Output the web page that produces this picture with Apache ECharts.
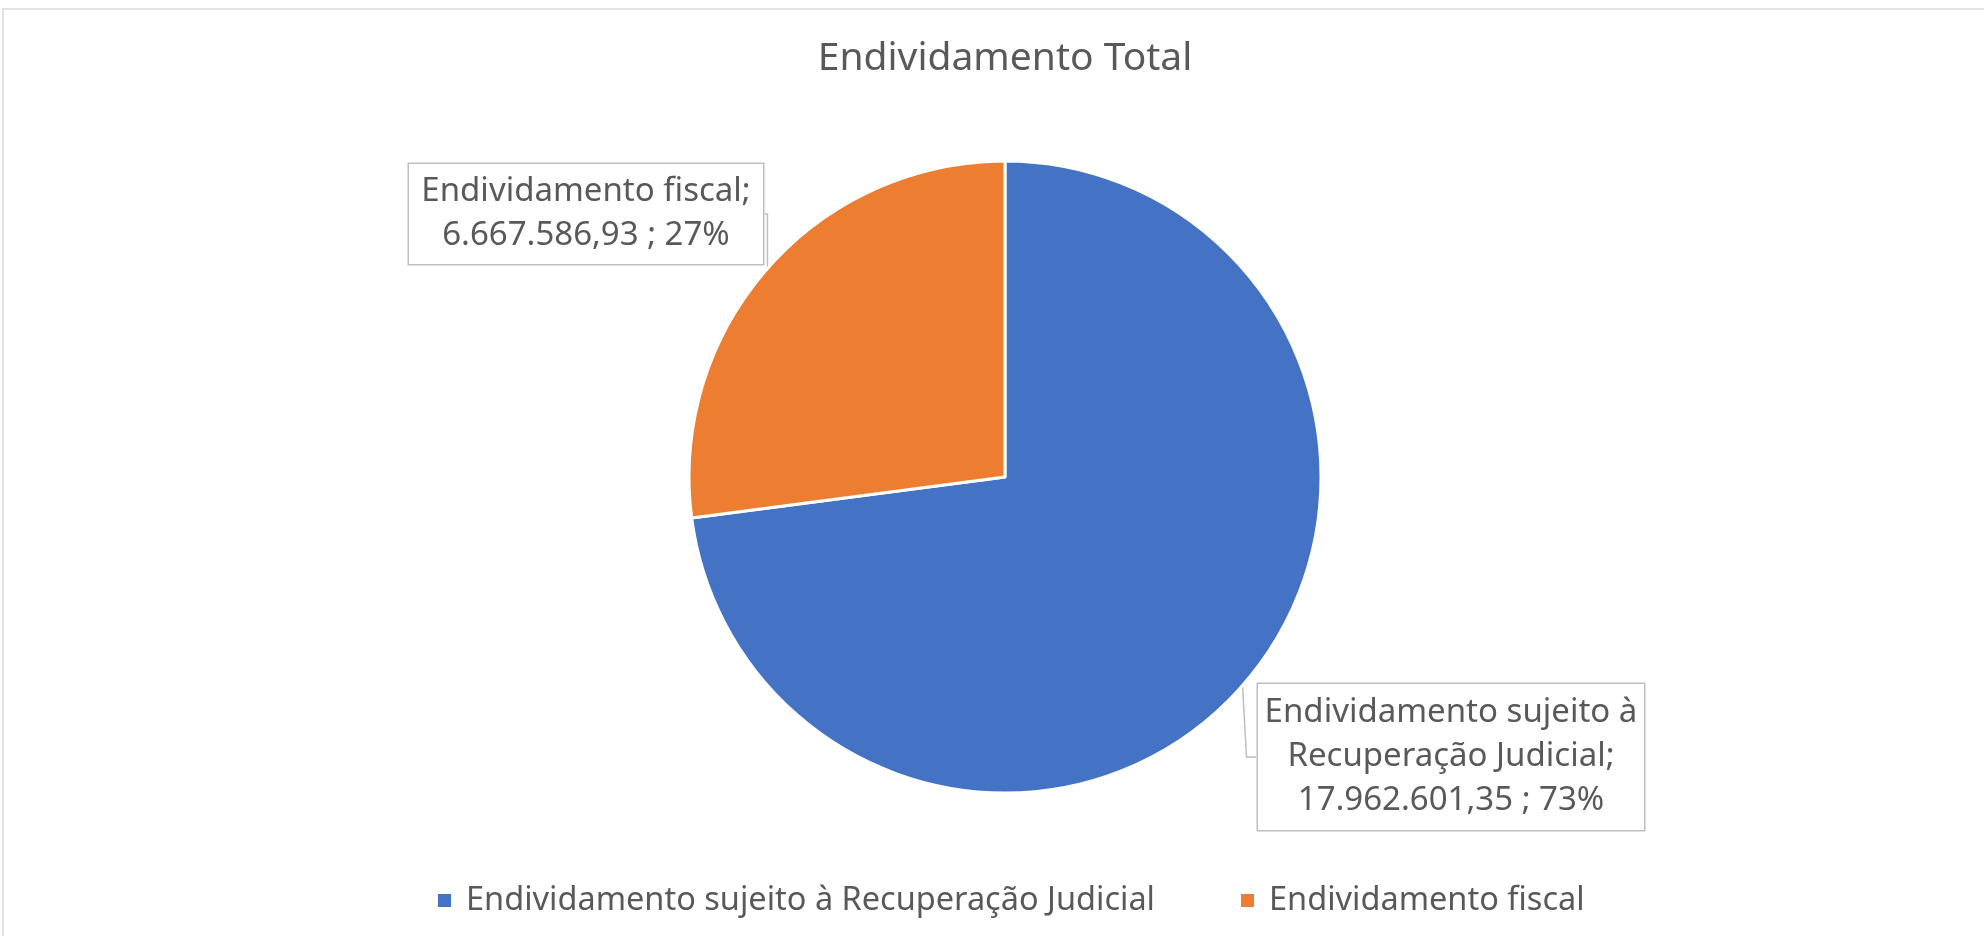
<!DOCTYPE html>
<html>
<head>
<meta charset="utf-8">
<script src="https://cdn.jsdelivr.net/npm/echarts@6/dist/echarts.min.js"></script>
<style>
  html, body { margin: 0; padding: 0; background: #fff; }
  #chart { width: 1984px; height: 936px; }
</style>
</head>
<body>
<div id="chart"></div>
<script>
// dados do grafico
var categories = ['Endividamento sujeito à Recuperação Judicial', 'Endividamento fiscal'];
var values = [17962601.35, 6667586.93];
var colors = ['#4472C4', '#ED7D31'];
// onde fica cada caixa de rotulo (centro)
var labelCenters = [[1451, 757], [586, 214]];
var labelWidths = [370, 332];

function fmtBR(v) {
    var parts = v.toFixed(2).split('.');
    return parts[0].replace(/\B(?=(\d{3})+(?!\d))/g, '.') + ',' + parts[1];
}

// quebra o nome em linhas de ate n caracteres
function wrap(text, n) {
    var lines = [], cur = '';
    text.split(' ').forEach(function (w) {
        if (cur && (cur + ' ' + w).length > n) {
            lines.push(cur);
            cur = w;
        } else {
            cur = cur ? cur + ' ' + w : w;
        }
    });
    lines.push(cur);
    return lines.join('\n');
}

var chart = echarts.init(document.getElementById('chart'));
var font = '"Noto Sans", sans-serif';

var option = {
    animation: false,
    color: colors,
    title: {
        text: 'Endividamento Total',
        left: 1000,
        textAlign: 'center',
        top: 34,
        textStyle: { fontFamily: font, fontSize: 39, fontWeight: 'normal', color: '#595959' }
    },
    legend: {
        bottom: 14,
        left: 431,
        icon: 'rect',
        itemWidth: 15,
        itemHeight: 15,
        itemGap: 84,
        textStyle: { fontFamily: font, fontSize: 32.5, color: '#595959', padding: [0, 0, 0, 9] },
        data: categories
    },
    graphic: [{
        type: 'rect',
        shape: { x: 3, y: 9, width: 2100, height: 1000 },
        style: { fill: 'none', stroke: '#d9d9d9', lineWidth: 1.5 },
        silent: true
    }],
    series: [{
        type: 'pie',
        center: [1005, 477],
        radius: 316,
        startAngle: 90,
        percentPrecision: 0,
        itemStyle: { borderColor: '#fff', borderWidth: 3 },
        label: {
            show: true,
            position: 'outside',
            fontFamily: font,
            fontSize: 33,
            lineHeight: 44,
            color: '#595959',
            backgroundColor: '#fff',
            borderColor: '#bfbfbf',
            borderWidth: 1.5,
            padding: [7, 8],
            align: 'center',
            overflow: 'none',
            formatter: function (p) {
                return wrap(p.name + ';', 24) + '\n' + fmtBR(p.value) + ' ; ' + p.percent + '%';
            }
        },
        labelLine: {
            show: true,
            length: 10,
            length2: 10,
            lineStyle: { color: '#bfbfbf', width: 1.5 }
        },
        labelLayout: function (params) {
            var c = labelCenters[params.dataIndex];
            return { x: c[0], y: c[1], align: 'center', verticalAlign: 'middle' };
        },
        data: categories.map(function (name, i) {
            return {
                name: name,
                value: values[i],
                label: { width: labelWidths[i], padding: i === 1 ? [6, 11] : [7, 8] }
            };
        })
    }]
};

chart.setOption(option);
window.onresize = chart.resize;
</script>
</body>
</html>
